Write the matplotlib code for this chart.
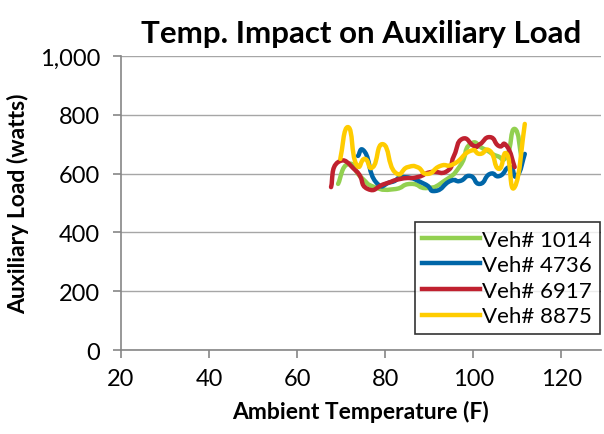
import matplotlib
matplotlib.use("Agg")
import matplotlib.pyplot as plt
import numpy as np
from matplotlib.path import Path
from matplotlib.patches import PathPatch
from matplotlib.lines import Line2D

plt.rcParams['font.family'] = ['Lato', 'DejaVu Sans']

# data
x_1014 = [69.3, 71.6, 74.5, 77.6, 82.0, 85.8, 89.6, 93.4, 97.0, 99.3, 102.4, 105.4, 107.6, 109.4, 111.0]
y_1014 = [565, 633, 588, 554, 547, 565, 551, 575, 626, 700, 684, 660, 660, 752, 650]

x_4736 = [73.8, 75.4, 77.9, 81.3, 84.4, 88.9, 91.4, 94.8, 97.0, 99.3, 101.5, 103.8, 106.0, 108.3, 109.9, 111.7]
y_4736 = [660, 673, 571, 571, 588, 565, 541, 575, 575, 592, 565, 599, 592, 622, 592, 667]

x_6917 = [67.7, 69.3, 73.4, 76.0, 79.9, 83.5, 87.3, 90.3, 94.1, 95.6, 97.5, 100.2, 101.5, 103.8, 105.8, 107.6, 109.4]
y_6917 = [554, 639, 609, 548, 565, 582, 588, 605, 609, 660, 718, 694, 700, 724, 694, 694, 622]

x_8875 = [69.8, 71.6, 73.4, 75.4, 77.2, 79.5, 82.2, 85.1, 87.3, 89.6, 92.5, 95.6, 99.3, 101.5, 103.8, 105.8, 107.6, 109.4, 111.7]
y_8875 = [650, 758, 633, 650, 622, 700, 605, 622, 622, 599, 626, 633, 677, 667, 677, 616, 667, 554, 769]

names = ['Veh# 1014', 'Veh# 4736', 'Veh# 6917', 'Veh# 8875']
colors = ['#92d050', '#0066a8', '#c0212f', '#ffcc00']
series = [(x_1014, y_1014), (x_4736, y_4736), (x_6917, y_6917), (x_8875, y_8875)]


def smooth_path(xs, ys, t=0.3):
    # Excel-style smoothed line as cubic bezier segments
    p = np.column_stack([xs, ys]).astype(float)
    verts = [p[0]]
    codes = [Path.MOVETO]
    n = len(p)
    for i in range(n - 1):
        p0 = p[i - 1] if i > 0 else p[i]
        p3 = p[i + 2] if i + 2 < n else p[i + 1]
        c1 = p[i] + (p[i + 1] - p0) * t
        c2 = p[i + 1] - (p3 - p[i]) * t
        verts += [c1, c2, p[i + 1]]
        codes += [Path.CURVE4] * 3
    return Path(verts, codes)


fig = plt.figure(figsize=(6.04, 4.35), dpi=100)
ax = fig.add_axes([0.2003, 0.193, 0.7947, 0.676])

for (xs, ys), c in zip(series, colors):
    ax.add_patch(PathPatch(smooth_path(xs, ys), facecolor='none', edgecolor=c, lw=3.2,
                           capstyle='round', joinstyle='round'))

ax.set_xlim(20, 129)
ax.set_ylim(0, 1000)
ax.set_xticks([20, 40, 60, 80, 100, 120])
ax.set_yticks([0, 200, 400, 600, 800, 1000])
ax.set_yticklabels(['0', '200', '400', '600', '800', '1,000'])
ax.yaxis.grid(True, color='#a6a6a6', lw=1)
ax.set_axisbelow(True)
for s in ['top', 'right']:
    ax.spines[s].set_visible(False)
for s in ['left', 'bottom']:
    ax.spines[s].set_color('#868686')
    ax.spines[s].set_linewidth(1.2)
ax.tick_params(colors='#868686', labelcolor='black', labelsize=17, length=6, width=1.2)
ax.tick_params(axis='y', pad=9)
ax.tick_params(axis='x', pad=7)

ax.set_title('Temp. Impact on Auxiliary Load', fontsize=22.5, fontweight='bold', pad=10)
ax.set_xlabel('Ambient Temperature (F)', fontsize=16.5, fontweight='bold', labelpad=8)
ax.set_ylabel('Auxiliary Load (watts)', fontsize=16.5, fontweight='bold', labelpad=8)

handles = [Line2D([0], [0], color=c, lw=3.2) for c in colors]
leg = ax.legend(handles, names, loc='lower right', bbox_to_anchor=(0.998, 0.054), fontsize=16,
                frameon=True, fancybox=False, edgecolor='black', handlelength=2.6,
                handletextpad=0.1, labelspacing=0.25, borderpad=0.35, borderaxespad=0)
leg.get_frame().set_linewidth(1.2)

fig.savefig('out.png', dpi=100)
